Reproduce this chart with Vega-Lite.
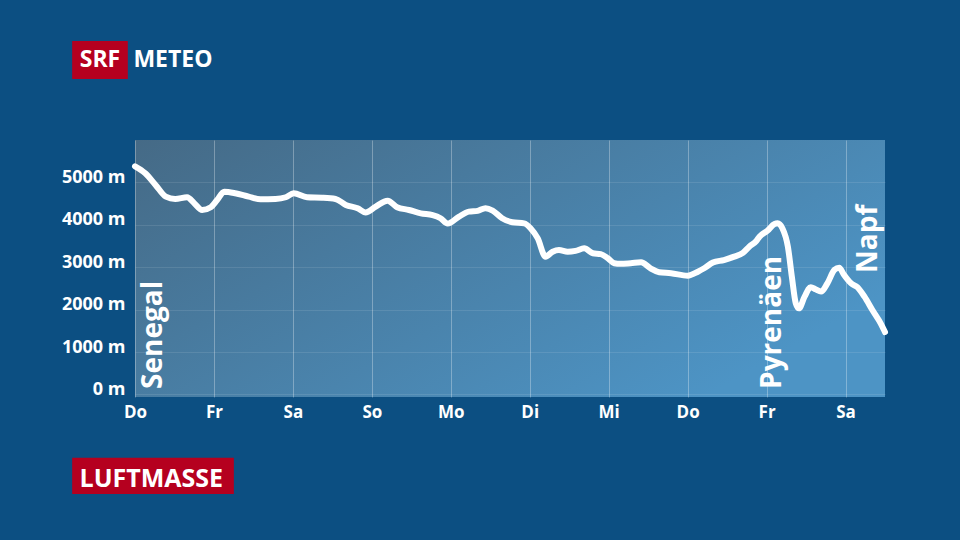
{
  "$schema": "https://vega.github.io/schema/vega-lite/v6.json",
  "width": 750,
  "height": 257,
  "autosize": {"type": "none"},
  "padding": {"left": 135, "top": 140, "right": 75, "bottom": 143},
  "background": "#0c4f82",
  "config": {
    "font": "Open Sans",
    "view": {
      "stroke": null,
      "fill": {
        "gradient": "linear",
        "x1": 0, "y1": 0, "x2": 1, "y2": 0.6,
        "stops": [
          {"offset": 0, "color": "#456a86"},
          {"offset": 1, "color": "#4d94c5"}
        ]
      }
    }
  },
  "datasets": {
    "profile": [
      {"d": 0.00, "m": 5380}, {"d": 0.13, "m": 5215}, {"d": 0.26, "m": 4940}, {"d": 0.39, "m": 4665},
      {"d": 0.51, "m": 4610}, {"d": 0.66, "m": 4650}, {"d": 0.75, "m": 4510}, {"d": 0.85, "m": 4350},
      {"d": 0.96, "m": 4415}, {"d": 1.04, "m": 4585}, {"d": 1.13, "m": 4780}, {"d": 1.27, "m": 4745},
      {"d": 1.44, "m": 4665}, {"d": 1.59, "m": 4605}, {"d": 1.78, "m": 4610}, {"d": 1.91, "m": 4650},
      {"d": 2.01, "m": 4745}, {"d": 2.18, "m": 4650}, {"d": 2.37, "m": 4640}, {"d": 2.54, "m": 4610},
      {"d": 2.67, "m": 4470}, {"d": 2.82, "m": 4390}, {"d": 2.92, "m": 4290}, {"d": 3.05, "m": 4430},
      {"d": 3.20, "m": 4570}, {"d": 3.32, "m": 4415}, {"d": 3.47, "m": 4350}, {"d": 3.62, "m": 4270},
      {"d": 3.77, "m": 4230}, {"d": 3.87, "m": 4155}, {"d": 3.96, "m": 4030}, {"d": 4.10, "m": 4190},
      {"d": 4.23, "m": 4310}, {"d": 4.34, "m": 4330}, {"d": 4.44, "m": 4390}, {"d": 4.53, "m": 4335},
      {"d": 4.65, "m": 4155}, {"d": 4.78, "m": 4060}, {"d": 4.93, "m": 4035}, {"d": 5.01, "m": 3920},
      {"d": 5.10, "m": 3685}, {"d": 5.20, "m": 3250}, {"d": 5.29, "m": 3365}, {"d": 5.37, "m": 3405},
      {"d": 5.48, "m": 3365}, {"d": 5.58, "m": 3385}, {"d": 5.69, "m": 3445}, {"d": 5.80, "m": 3330},
      {"d": 5.90, "m": 3310}, {"d": 5.99, "m": 3210}, {"d": 6.07, "m": 3095}, {"d": 6.15, "m": 3080},
      {"d": 6.28, "m": 3095}, {"d": 6.41, "m": 3115}, {"d": 6.53, "m": 2975}, {"d": 6.64, "m": 2880},
      {"d": 6.79, "m": 2860}, {"d": 7.00, "m": 2800}, {"d": 7.13, "m": 2895}, {"d": 7.21, "m": 2975},
      {"d": 7.32, "m": 3110}, {"d": 7.46, "m": 3170}, {"d": 7.59, "m": 3250}, {"d": 7.70, "m": 3340},
      {"d": 7.78, "m": 3485}, {"d": 7.87, "m": 3620}, {"d": 7.91, "m": 3720}, {"d": 8.01, "m": 3860},
      {"d": 8.10, "m": 4020}, {"d": 8.14, "m": 4036}, {"d": 8.20, "m": 3920}, {"d": 8.27, "m": 3485},
      {"d": 8.32, "m": 2780}, {"d": 8.37, "m": 2150}, {"d": 8.41, "m": 2030}, {"d": 8.48, "m": 2300},
      {"d": 8.56, "m": 2530}, {"d": 8.62, "m": 2480}, {"d": 8.69, "m": 2425}, {"d": 8.77, "m": 2620},
      {"d": 8.86, "m": 2940}, {"d": 8.92, "m": 2990}, {"d": 8.98, "m": 2820}, {"d": 9.07, "m": 2620},
      {"d": 9.15, "m": 2530}, {"d": 9.24, "m": 2305}, {"d": 9.34, "m": 1990}, {"d": 9.45, "m": 1660},
      {"d": 9.50, "m": 1470}
    ],
    "labels": [
      {"label": "Senegal", "d": 0.245, "m": 130},
      {"label": "Pyrenäen", "d": 8.08, "m": 130},
      {"label": "Napf", "d": 9.30, "m": 2865}
    ],
    "one": [{}]
  },
  "layer": [
    {
      "data": {"name": "profile"},
      "mark": {"type": "line", "color": "white", "strokeWidth": 6, "interpolate": "monotone", "strokeCap": "round", "strokeJoin": "round"},
      "encoding": {
        "x": {
          "field": "d", "type": "quantitative",
          "scale": {"domain": [0, 9.5], "nice": false, "zero": false},
          "axis": {
            "title": null, "values": [0, 1, 2, 3, 4, 5, 6, 7, 8, 9],
            "labelExpr": "['Do','Fr','Sa','So','Mo','Di','Mi','Do','Fr','Sa'][datum.value]",
            "grid": true, "gridColor": "#ffffff", "gridOpacity": 0.3, "gridWidth": 1,
            "domain": false, "ticks": false, "tickSize": 0,
            "labelColor": "#ffffff", "labelFont": "Open Sans", "labelFontSize": 17, "labelFontWeight": "bold",
            "labelPadding": 20, "labelBaseline": "alphabetic", "labelAlign": "center",
            "labelFlush": false, "labelOverlap": false
          }
        },
        "y": {
          "field": "m", "type": "quantitative",
          "scale": {"domain": [-60, 6000], "nice": false, "zero": false},
          "axis": {
            "title": null, "values": [0, 1000, 2000, 3000, 4000, 5000],
            "labelExpr": "datum.value + ' m'",
            "grid": true, "gridColor": "#ffffff", "gridOpacity": 0.1, "gridWidth": 1,
            "domain": false, "ticks": false, "tickSize": 0,
            "labelColor": "#ffffff", "labelFont": "Open Sans", "labelFontSize": 18, "labelFontWeight": "bold",
            "labelPadding": 10, "labelBaseline": "alphabetic", "labelAlign": "right",
            "labelOverlap": false
          }
        }
      }
    },
    {
      "data": {"name": "labels"},
      "mark": {"type": "text", "color": "white", "font": "Open Sans", "fontSize": 28, "fontWeight": "bold", "angle": 270, "align": "left", "baseline": "middle"},
      "encoding": {
        "x": {"field": "d", "type": "quantitative", "title": null, "scale": {"domain": [0, 9.5], "nice": false, "zero": false}},
        "y": {"field": "m", "type": "quantitative", "title": null, "scale": {"domain": [-60, 6000], "nice": false, "zero": false}},
        "text": {"field": "label"}
      }
    },
    {
      "data": {"name": "one"},
      "mark": {"type": "rect", "color": "#b5001f", "clip": false},
      "encoding": {
        "x": {"datum": -0.796, "type": "quantitative", "scale": {"domain": [0, 9.5], "nice": false, "zero": false}},
        "x2": {"datum": -0.091},
        "y": {"datum": 8335, "type": "quantitative", "scale": {"domain": [-60, 6000], "nice": false, "zero": false}},
        "y2": {"datum": 7439}
      }
    },
    {
      "data": {"name": "one"},
      "mark": {"type": "text", "color": "white", "font": "Open Sans", "fontSize": 23, "fontWeight": "bold", "align": "center", "baseline": "alphabetic", "text": "SRF", "clip": false},
      "encoding": {
        "x": {"datum": -0.444, "type": "quantitative", "scale": {"domain": [0, 9.5], "nice": false, "zero": false}},
        "y": {"datum": 7715, "type": "quantitative", "scale": {"domain": [-60, 6000], "nice": false, "zero": false}}
      }
    },
    {
      "data": {"name": "one"},
      "mark": {"type": "text", "color": "white", "font": "Open Sans", "fontSize": 23, "fontWeight": "bold", "align": "left", "baseline": "alphabetic", "text": "METEO", "clip": false},
      "encoding": {
        "x": {"datum": -0.02, "type": "quantitative", "scale": {"domain": [0, 9.5], "nice": false, "zero": false}},
        "y": {"datum": 7715, "type": "quantitative", "scale": {"domain": [-60, 6000], "nice": false, "zero": false}}
      }
    },
    {
      "data": {"name": "one"},
      "mark": {"type": "rect", "color": "#b5001f", "clip": false},
      "encoding": {
        "x": {"datum": -0.796, "type": "quantitative", "scale": {"domain": [0, 9.5], "nice": false, "zero": false}},
        "x2": {"datum": 1.252},
        "y": {"datum": -1490, "type": "quantitative", "scale": {"domain": [-60, 6000], "nice": false, "zero": false}},
        "y2": {"datum": -2346}
      }
    },
    {
      "data": {"name": "one"},
      "mark": {"type": "text", "color": "white", "font": "Open Sans", "fontSize": 25, "fontWeight": "bold", "align": "center", "baseline": "alphabetic", "text": "LUFTMASSE", "clip": false},
      "encoding": {
        "x": {"datum": 0.207, "type": "quantitative", "scale": {"domain": [0, 9.5], "nice": false, "zero": false}},
        "y": {"datum": -2190, "type": "quantitative", "scale": {"domain": [-60, 6000], "nice": false, "zero": false}}
      }
    }
  ]
}
